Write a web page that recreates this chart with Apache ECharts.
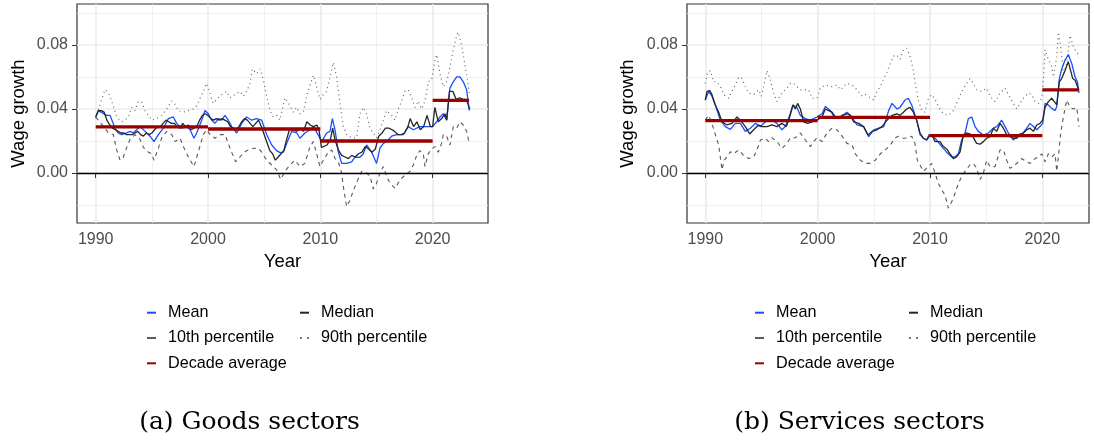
<!DOCTYPE html>
<html>
<head>
<meta charset="utf-8">
<script src="https://cdn.jsdelivr.net/npm/echarts@6/dist/echarts.min.js"></script>
<style>
html,body{margin:0;padding:0;background:#fff;}
#chart{width:1094px;height:443px;}
</style>
</head>
<body>
<div id="chart"></div>
<script>
// ---------- DATA ----------
const xMajorTicks = [1990, 2000, 2010, 2020];
const xMinorTicks = [1995, 2005, 2015];
const yMajorTicks = [0, 0.04, 0.08];
const yMinorTicks = [-0.02, 0.02, 0.06, 0.10];
const decadeStart = [1990, 2000, 2010, 2020];
const decadeEnd = [2000, 2010, 2020, 2023.25];
const goodsDecade = [0.0288, 0.0275, 0.0200, 0.0454];
const servicesDecade = [0.0327, 0.0348, 0.0233, 0.0520];

const goodsMean = [[1990.0,0.035],[1990.24,0.039],[1990.98,0.036],[1991.28,0.036],[1991.72,0.028],[1991.99,0.025],[1992.3,0.024],[1992.76,0.025],[1993.06,0.026],[1993.35,0.025],[1993.95,0.029],[1994.4,0.026],[1994.84,0.023],[1995.19,0.0196],[1995.58,0.024],[1996.02,0.028],[1996.47,0.034],[1996.91,0.035],[1997.21,0.031],[1997.66,0.028],[1998.1,0.029],[1998.4,0.027],[1998.75,0.0217],[1998.99,0.025],[1999.44,0.033],[1999.73,0.039],[2000.03,0.037],[2000.33,0.033],[2000.62,0.031],[2000.92,0.034],[2001.22,0.033],[2001.51,0.036],[2001.72,0.034],[2002.11,0.029],[2002.55,0.025],[2003.0,0.031],[2003.44,0.035],[2003.89,0.033],[2004.33,0.034],[2004.78,0.033],[2005.22,0.024],[2005.67,0.0175],[2006.11,0.014],[2006.41,0.0127],[2006.71,0.013],[2007.15,0.021],[2007.45,0.026],[2007.9,0.025],[2008.19,0.0217],[2008.63,0.025],[2009.08,0.027],[2009.38,0.029],[2009.82,0.0237],[2010.12,0.0196],[2010.56,0.025],[2010.86,0.026],[2011.07,0.034],[2011.31,0.027],[2011.6,0.0133],[2011.9,0.006],[2012.34,0.006],[2012.79,0.007],[2013.09,0.010],[2013.53,0.0098],[2013.83,0.012],[2014.12,0.0175],[2014.57,0.013],[2015.01,0.006],[2015.31,0.0155],[2015.61,0.0185],[2015.9,0.0196],[2016.35,0.023],[2016.8,0.024],[2017.39,0.024],[2017.83,0.029],[2018.28,0.027],[2018.87,0.029],[2019.47,0.029],[2020.0,0.029],[2020.36,0.032],[2020.65,0.035],[2020.95,0.037],[2021.25,0.033],[2021.54,0.053],[2021.84,0.057],[2022.14,0.060],[2022.43,0.060],[2022.73,0.057],[2023.03,0.052],[2023.26,0.039]];

const goodsMedian = [[1990.0,0.035],[1990.25,0.039],[1990.5,0.039],[1990.75,0.038],[1991.0,0.033],[1991.25,0.030],[1991.5,0.028],[1991.75,0.027],[1992.0,0.026],[1992.25,0.025],[1992.5,0.025],[1992.75,0.024],[1993.0,0.024],[1993.25,0.024],[1993.5,0.025],[1993.75,0.026],[1994.0,0.024],[1994.25,0.023],[1994.5,0.025],[1994.75,0.024],[1995.0,0.025],[1995.25,0.027],[1995.5,0.029],[1995.75,0.029],[1996.0,0.031],[1996.25,0.033],[1996.5,0.032],[1996.75,0.031],[1997.0,0.031],[1997.25,0.029],[1997.5,0.028],[1997.75,0.031],[1998.0,0.029],[1998.25,0.030],[1998.5,0.027],[1998.75,0.028],[1999.0,0.029],[1999.25,0.033],[1999.5,0.036],[1999.75,0.037],[2000.0,0.036],[2000.25,0.034],[2000.5,0.033],[2000.75,0.034],[2001.0,0.033],[2001.25,0.034],[2001.5,0.033],[2001.75,0.032],[2002.0,0.029],[2002.25,0.028],[2002.5,0.027],[2002.75,0.029],[2003.0,0.032],[2003.25,0.034],[2003.5,0.033],[2003.75,0.031],[2004.0,0.029],[2004.25,0.031],[2004.5,0.033],[2004.75,0.029],[2005.0,0.024],[2005.25,0.019],[2005.5,0.014],[2005.75,0.012],[2006.0,0.008],[2006.25,0.010],[2006.5,0.012],[2006.75,0.014],[2007.0,0.021],[2007.25,0.027],[2007.6,0.027],[2007.9,0.026],[2008.2,0.028],[2008.5,0.026],[2008.8,0.032],[2009.1,0.030],[2009.4,0.029],[2009.7,0.030],[2009.9,0.026],[2010.1,0.016],[2010.6,0.0175],[2010.9,0.021],[2011.1,0.028],[2011.3,0.021],[2011.6,0.0144],[2011.9,0.011],[2012.2,0.010],[2012.5,0.009],[2012.8,0.011],[2013.1,0.010],[2013.4,0.012],[2013.7,0.013],[2014.0,0.0165],[2014.3,0.015],[2014.6,0.013],[2014.9,0.015],[2015.2,0.023],[2015.5,0.025],[2015.8,0.028],[2016.1,0.028],[2016.4,0.027],[2016.6,0.026],[2016.9,0.024],[2017.2,0.024],[2017.5,0.025],[2017.8,0.029],[2018.0,0.034],[2018.3,0.029],[2018.6,0.032],[2018.9,0.027],[2019.2,0.029],[2019.5,0.036],[2019.8,0.029],[2020.0,0.029],[2020.2,0.041],[2020.5,0.032],[2020.8,0.034],[2021.1,0.037],[2021.25,0.033],[2021.5,0.051],[2021.8,0.051],[2022.1,0.046],[2022.4,0.047],[2022.7,0.046],[2023.0,0.046],[2023.3,0.040]];

const goodsP10 = [[1990.0,0.035],[1990.83,0.028],[1991.13,0.025],[1991.57,0.024],[1991.87,0.0144],[1992.17,0.008],[1992.46,0.010],[1992.76,0.016],[1993.06,0.021],[1993.5,0.024],[1993.95,0.021],[1994.24,0.016],[1994.69,0.013],[1994.99,0.012],[1995.19,0.008],[1995.58,0.0155],[1995.88,0.022],[1996.32,0.026],[1996.77,0.024],[1997.06,0.0196],[1997.51,0.0217],[1997.8,0.0165],[1998.25,0.010],[1998.75,0.004],[1999.14,0.0133],[1999.58,0.024],[1999.88,0.027],[2000.18,0.024],[2000.62,0.0217],[2001.07,0.024],[2001.51,0.024],[2001.96,0.0155],[2002.46,0.007],[2002.85,0.010],[2003.2,0.013],[2003.59,0.0144],[2004.04,0.0155],[2004.48,0.0155],[2004.78,0.013],[2005.22,0.008],[2005.67,0.005],[2006.11,0.002],[2006.47,-0.004],[2006.85,0.001],[2007.3,0.005],[2007.74,0.008],[2008.19,0.004],[2008.63,0.006],[2009.08,0.0165],[2009.38,0.0196],[2009.67,0.012],[2009.97,0.004],[2010.27,0.008],[2010.71,0.013],[2011.01,0.0144],[2011.31,0.009],[2011.6,0.007],[2011.9,0.0],[2012.05,-0.0085],[2012.34,-0.021],[2012.64,-0.017],[2012.94,-0.011],[2013.29,-0.005],[2013.68,0.001],[2014.12,0.0],[2014.42,-0.002],[2014.72,-0.010],[2015.01,-0.0065],[2015.31,0.0],[2015.61,0.004],[2015.9,-0.002],[2016.2,-0.0065],[2016.65,-0.0096],[2017.09,-0.0044],[2017.54,-0.0013],[2017.98,0.001],[2018.28,0.005],[2018.58,0.011],[2018.87,0.014],[2019.17,0.012],[2019.32,0.004],[2019.61,0.012],[2019.91,0.015],[2020.21,0.0165],[2020.5,0.013],[2020.8,0.0185],[2020.95,0.024],[2021.25,0.023],[2021.54,0.0175],[2021.84,0.029],[2022.14,0.028],[2022.43,0.032],[2022.73,0.030],[2023.03,0.026],[2023.26,0.0185]];

const goodsP90 = [[1990.0,0.034],[1990.53,0.046],[1990.83,0.052],[1991.13,0.050],[1991.42,0.045],[1991.87,0.035],[1992.31,0.032],[1992.61,0.033],[1992.91,0.035],[1993.2,0.041],[1993.5,0.039],[1993.8,0.045],[1994.1,0.044],[1994.39,0.039],[1994.69,0.036],[1994.99,0.033],[1995.43,0.034],[1995.88,0.036],[1996.32,0.040],[1996.77,0.045],[1997.06,0.043],[1997.36,0.039],[1997.8,0.038],[1998.25,0.039],[1998.69,0.040],[1998.99,0.042],[1999.44,0.049],[1999.88,0.056],[2000.18,0.050],[2000.47,0.0435],[2000.92,0.047],[2001.22,0.049],[2001.66,0.051],[2001.96,0.047],[2002.4,0.049],[2002.85,0.051],[2003.15,0.048],[2003.44,0.051],[2003.74,0.056],[2003.95,0.065],[2004.33,0.062],[2004.63,0.065],[2004.93,0.058],[2005.22,0.048],[2005.52,0.039],[2005.82,0.035],[2006.11,0.036],[2006.41,0.033],[2006.85,0.047],[2007.0,0.048],[2007.3,0.042],[2007.6,0.038],[2007.89,0.041],[2008.19,0.037],[2008.49,0.038],[2008.78,0.048],[2009.08,0.055],[2009.38,0.061],[2009.67,0.054],[2009.97,0.046],[2010.27,0.049],[2010.56,0.051],[2010.86,0.060],[2011.16,0.069],[2011.45,0.060],[2011.75,0.0435],[2012.05,0.029],[2012.34,0.024],[2012.79,0.022],[2013.23,0.022],[2013.53,0.037],[2013.83,0.041],[2014.12,0.037],[2014.42,0.028],[2014.72,0.025],[2015.01,0.022],[2015.31,0.027],[2015.61,0.033],[2015.9,0.039],[2016.35,0.036],[2016.65,0.033],[2016.94,0.040],[2017.24,0.045],[2017.54,0.051],[2017.83,0.052],[2018.13,0.047],[2018.43,0.041],[2018.72,0.045],[2019.02,0.040],[2019.32,0.045],[2019.61,0.057],[2019.91,0.058],[2020.21,0.071],[2020.36,0.074],[2020.65,0.062],[2020.95,0.054],[2021.25,0.057],[2021.54,0.066],[2021.84,0.077],[2022.14,0.086],[2022.28,0.088],[2022.58,0.080],[2022.88,0.0675],[2023.17,0.055],[2023.26,0.050]];

const servicesMean = [[1990.0,0.0456],[1990.3,0.051],[1990.59,0.048],[1990.89,0.0425],[1991.34,0.033],[1991.78,0.029],[1992.23,0.0273],[1992.67,0.031],[1993.12,0.031],[1993.56,0.026],[1994.01,0.028],[1994.45,0.031],[1994.9,0.029],[1995.49,0.033],[1995.93,0.033],[1996.38,0.031],[1996.82,0.027],[1997.12,0.029],[1997.51,0.036],[1997.8,0.0425],[1998.16,0.041],[1998.46,0.036],[1998.9,0.034],[1999.35,0.033],[1999.94,0.035],[2000.39,0.037],[2000.68,0.0415],[2001.13,0.039],[2001.57,0.034],[2002.02,0.035],[2002.61,0.038],[2003.06,0.035],[2003.5,0.030],[2004.09,0.029],[2004.54,0.0227],[2004.99,0.027],[2005.43,0.028],[2005.88,0.029],[2006.32,0.039],[2006.62,0.0435],[2007.06,0.040],[2007.33,0.041],[2007.77,0.0456],[2008.07,0.0467],[2008.37,0.0425],[2008.81,0.033],[2009.11,0.024],[2009.41,0.0217],[2009.7,0.0206],[2009.94,0.0227],[2010.15,0.024],[2010.59,0.0206],[2011.04,0.0165],[2011.48,0.013],[2011.93,0.010],[2012.23,0.010],[2012.52,0.012],[2012.82,0.0206],[2013.12,0.025],[2013.41,0.034],[2013.71,0.035],[2014.01,0.029],[2014.3,0.026],[2014.75,0.0237],[2015.19,0.025],[2015.64,0.028],[2015.93,0.029],[2016.38,0.033],[2016.68,0.029],[2016.97,0.025],[2017.42,0.0206],[2017.86,0.024],[2018.31,0.025],[2018.61,0.028],[2018.9,0.031],[2019.2,0.029],[2019.5,0.027],[2019.79,0.029],[2020.03,0.031],[2020.24,0.0435],[2020.53,0.0425],[2020.83,0.0404],[2021.13,0.039],[2021.28,0.0415],[2021.51,0.059],[2021.72,0.065],[2022.02,0.0706],[2022.31,0.074],[2022.61,0.0685],[2022.91,0.060],[2023.12,0.057],[2023.26,0.050]];

const servicesMedian = [[1990.0,0.0456],[1990.15,0.051],[1990.39,0.0515],[1990.59,0.049],[1990.89,0.0425],[1991.19,0.038],[1991.48,0.032],[1991.93,0.030],[1992.37,0.031],[1992.82,0.035],[1993.12,0.033],[1993.56,0.029],[1993.95,0.0244],[1994.3,0.027],[1994.75,0.030],[1995.04,0.029],[1995.49,0.029],[1995.93,0.030],[1996.38,0.029],[1996.82,0.031],[1997.21,0.029],[1997.51,0.035],[1997.8,0.0425],[1998.01,0.040],[1998.22,0.0435],[1998.46,0.040],[1998.75,0.032],[1999.11,0.031],[1999.5,0.032],[1999.94,0.033],[2000.39,0.035],[2000.68,0.040],[2000.98,0.039],[2001.28,0.038],[2001.57,0.035],[2001.87,0.034],[2002.17,0.036],[2002.61,0.037],[2002.91,0.036],[2003.2,0.032],[2003.65,0.031],[2004.09,0.029],[2004.48,0.0237],[2004.84,0.026],[2005.28,0.027],[2005.73,0.029],[2006.17,0.033],[2006.62,0.036],[2007.06,0.037],[2007.33,0.036],[2007.63,0.038],[2007.92,0.040],[2008.22,0.041],[2008.52,0.038],[2008.81,0.033],[2009.11,0.025],[2009.41,0.0217],[2009.7,0.0206],[2009.94,0.024],[2010.15,0.024],[2010.45,0.0196],[2010.89,0.0196],[2011.19,0.0165],[2011.48,0.015],[2011.78,0.012],[2012.08,0.009],[2012.37,0.010],[2012.67,0.013],[2012.97,0.024],[2013.26,0.025],[2013.71,0.024],[2014.15,0.0185],[2014.45,0.018],[2014.75,0.0196],[2015.04,0.0217],[2015.34,0.0227],[2015.64,0.028],[2015.93,0.026],[2016.23,0.031],[2016.53,0.028],[2016.82,0.024],[2017.12,0.0227],[2017.42,0.0217],[2017.72,0.0217],[2018.01,0.024],[2018.31,0.025],[2018.61,0.027],[2018.9,0.028],[2019.2,0.026],[2019.5,0.030],[2019.79,0.031],[2020.03,0.033],[2020.24,0.041],[2020.53,0.0446],[2020.83,0.0467],[2021.13,0.044],[2021.28,0.0425],[2021.51,0.057],[2021.72,0.059],[2022.02,0.064],[2022.31,0.0696],[2022.46,0.0706],[2022.7,0.059],[2022.91,0.058],[2023.12,0.054],[2023.26,0.052]];

const servicesP10 = [[1990.0,0.033],[1990.3,0.036],[1990.59,0.031],[1990.89,0.024],[1991.19,0.0175],[1991.48,0.002],[1991.69,0.008],[1991.93,0.010],[1992.23,0.0133],[1992.52,0.012],[1992.97,0.0144],[1993.41,0.011],[1993.86,0.009],[1994.3,0.010],[1994.6,0.0144],[1994.9,0.0206],[1995.34,0.0217],[1995.64,0.0196],[1995.93,0.022],[1996.38,0.0196],[1996.82,0.0154],[1997.27,0.0185],[1997.57,0.022],[1998.01,0.022],[1998.46,0.025],[1998.9,0.0206],[1999.35,0.0165],[1999.64,0.0196],[1999.94,0.022],[2000.39,0.0196],[2000.83,0.025],[2001.28,0.028],[2001.72,0.027],[2002.17,0.023],[2002.61,0.0185],[2003.06,0.0175],[2003.35,0.012],[2003.8,0.008],[2004.24,0.006],[2004.69,0.006],[2005.13,0.008],[2005.58,0.012],[2006.02,0.0144],[2006.47,0.0175],[2006.91,0.022],[2007.2,0.023],[2007.63,0.0217],[2008.07,0.022],[2008.37,0.023],[2008.66,0.0185],[2008.87,0.008],[2009.11,0.005],[2009.41,0.001],[2009.7,0.003],[2010.15,0.006],[2010.45,0.0],[2010.74,-0.0065],[2011.04,-0.0106],[2011.34,-0.0138],[2011.63,-0.022],[2011.93,-0.018],[2012.23,-0.0127],[2012.52,-0.0065],[2012.82,-0.0023],[2013.12,0.001],[2013.56,0.005],[2013.86,0.006],[2014.15,0.003],[2014.45,-0.004],[2014.75,0.0],[2015.04,0.008],[2015.34,0.004],[2015.79,0.004],[2016.23,0.0144],[2016.53,0.0144],[2016.82,0.008],[2017.12,0.003],[2017.42,0.004],[2017.86,0.007],[2018.16,0.009],[2018.61,0.007],[2018.9,0.006],[2019.35,0.009],[2019.64,0.010],[2019.94,0.012],[2020.24,0.007],[2020.53,0.012],[2020.83,0.010],[2021.13,0.012],[2021.28,0.001],[2021.42,0.010],[2021.63,0.025],[2021.87,0.035],[2022.17,0.0456],[2022.46,0.041],[2022.76,0.040],[2023.06,0.041],[2023.26,0.029]];

const servicesP90 = [[1990.0,0.056],[1990.21,0.063],[1990.45,0.064],[1990.74,0.057],[1991.04,0.057],[1991.34,0.054],[1991.63,0.049],[1992.08,0.0467],[1992.37,0.051],[1992.67,0.055],[1992.97,0.060],[1993.26,0.059],[1993.56,0.054],[1993.86,0.050],[1994.3,0.049],[1994.75,0.052],[1994.99,0.048],[1995.19,0.054],[1995.49,0.064],[1995.79,0.058],[1996.08,0.050],[1996.38,0.0446],[1996.68,0.049],[1996.97,0.051],[1997.27,0.053],[1997.57,0.056],[1997.86,0.056],[1998.16,0.054],[1998.46,0.052],[1998.9,0.052],[1999.2,0.052],[1999.5,0.0467],[1999.94,0.0467],[2000.24,0.053],[2000.68,0.055],[2001.13,0.054],[2001.42,0.054],[2001.72,0.055],[2002.02,0.052],[2002.31,0.054],[2002.61,0.056],[2003.06,0.055],[2003.5,0.052],[2003.95,0.048],[2004.24,0.049],[2004.69,0.047],[2004.99,0.0456],[2005.28,0.051],[2005.58,0.054],[2005.88,0.059],[2006.17,0.063],[2006.47,0.0685],[2006.74,0.073],[2007.03,0.0738],[2007.33,0.071],[2007.63,0.077],[2007.92,0.078],[2008.22,0.073],[2008.52,0.064],[2008.66,0.057],[2008.96,0.0456],[2009.26,0.039],[2009.55,0.038],[2009.85,0.0467],[2010.15,0.049],[2010.45,0.046],[2010.74,0.0415],[2011.19,0.037],[2011.63,0.036],[2012.08,0.039],[2012.52,0.046],[2012.82,0.051],[2013.26,0.056],[2013.56,0.059],[2013.86,0.056],[2014.15,0.052],[2014.6,0.051],[2015.04,0.053],[2015.34,0.048],[2015.79,0.0446],[2016.23,0.050],[2016.68,0.053],[2016.97,0.049],[2017.42,0.0435],[2017.72,0.040],[2018.01,0.0435],[2018.31,0.0467],[2018.75,0.050],[2019.05,0.049],[2019.35,0.0446],[2019.64,0.0435],[2019.94,0.0467],[2020.09,0.058],[2020.24,0.077],[2020.53,0.071],[2020.83,0.0665],[2020.98,0.060],[2021.28,0.0727],[2021.42,0.088],[2021.63,0.079],[2021.87,0.062],[2022.17,0.0685],[2022.46,0.086],[2022.76,0.079],[2023.06,0.075],[2023.26,0.074]];

// ---------- STYLE ----------
const SANS = '"Liberation Sans", Arial, Helvetica, sans-serif';
const COL_MEAN = '#1450ff';
const COL_MEDIAN = '#262626';
const COL_P10 = '#595959';
const COL_P90 = '#666666';
const COL_DEC = '#990000';
const GRID_COL = '#ebebeb';

function decadeData(vals) {
  const out = [];
  for (let i = 0; i < vals.length; i++) {
    out.push([decadeStart[i], vals[i]]);
    out.push([decadeEnd[i], vals[i]]);
    out.push([decadeEnd[i], null]);
  }
  return out;
}

const panels = [
  {left: 77, width: 411, xmin: 1988.335, xmax: 2024.93, nameGap: 49,
   mean: goodsMean, median: goodsMedian, p10: goodsP10, p90: goodsP90, dec: goodsDecade},
  {left: 687, width: 402, xmin: 1988.37, xmax: 2024.15, nameGap: 50,
   mean: servicesMean, median: servicesMedian, p10: servicesP10, p90: servicesP90, dec: servicesDecade}
];

const YMIN = -0.03125, YMAX = 0.1056;
const grid = [], xAxis = [], yAxis = [], series = [];

panels.forEach((p, i) => {
  grid.push({left: p.left, top: 4, width: p.width, height: 219, show: true,
    borderColor: '#333333', borderWidth: 1.2, backgroundColor: 'transparent', containLabel: false});
  xAxis.push({type: 'value', gridIndex: i, min: p.xmin, max: p.xmax, position: 'bottom',
    name: 'Year', nameLocation: 'middle', nameGap: 29,
    nameTextStyle: {fontFamily: SANS, fontSize: 18.5, color: '#000'},
    axisLine: {show: false},
    axisTick: {show: true, length: 5, lineStyle: {color: '#333', width: 1}, customValues: xMajorTicks},
    axisLabel: {show: true, margin: 9, fontFamily: SANS, fontSize: 16, color: '#4d4d4d', customValues: xMajorTicks,
      formatter: v => String(Math.round(v))},
    splitLine: {show: true, lineStyle: {color: GRID_COL, width: 1.6}}});
  xAxis.push({type: 'value', gridIndex: i, min: p.xmin, max: p.xmax, position: 'bottom',
    axisLine: {show: false}, axisLabel: {show: false},
    axisTick: {show: false, customValues: xMinorTicks},
    splitLine: {show: true, lineStyle: {color: GRID_COL, width: 0.8}}});
  yAxis.push({type: 'value', gridIndex: i, min: YMIN, max: YMAX, position: 'left',
    name: 'Wage growth', nameLocation: 'middle', nameGap: p.nameGap, nameRotate: 90,
    nameTextStyle: {fontFamily: SANS, fontSize: 18.5, color: '#000'},
    axisLine: {show: false},
    axisTick: {show: true, length: 5, lineStyle: {color: '#333', width: 1}, customValues: yMajorTicks},
    axisLabel: {show: true, margin: 9, fontFamily: SANS, fontSize: 16, color: '#4d4d4d', customValues: yMajorTicks,
      formatter: v => v.toFixed(2)},
    splitLine: {show: true, lineStyle: {color: GRID_COL, width: 1.6}}});
  yAxis.push({type: 'value', gridIndex: i, min: YMIN, max: YMAX, position: 'left', offset: 0,
    axisLine: {show: false}, axisLabel: {show: false},
    axisTick: {show: false, customValues: yMinorTicks},
    splitLine: {show: true, lineStyle: {color: GRID_COL, width: 0.8}}});

  const xi = 2 * i, yi = 2 * i;
  const base = {type: 'line', xAxisIndex: xi, yAxisIndex: yi, showSymbol: false, symbol: 'none',
    animation: false, silent: true};
  series.push(Object.assign({}, base, {name: '10th percentile', data: p.p10, color: COL_P10, z: 3,
    lineStyle: {color: COL_P10, width: 1.1, type: [4, 4]}}));
  series.push(Object.assign({}, base, {name: '90th percentile', data: p.p90, color: COL_P90, z: 3,
    lineStyle: {color: COL_P90, width: 1.2, type: [1, 3.5]}}));
  series.push(Object.assign({}, base, {name: 'Mean', data: p.mean, color: COL_MEAN, z: 4,
    lineStyle: {color: COL_MEAN, width: 1.3},
    markLine: {silent: true, symbol: 'none', label: {show: false}, animation: false,
      lineStyle: {color: '#000', width: 1.3, type: 'solid'}, data: [{yAxis: 0}]}}));
  series.push(Object.assign({}, base, {name: 'Median', data: p.median, color: COL_MEDIAN, z: 5,
    lineStyle: {color: COL_MEDIAN, width: 1.3}}));
  series.push(Object.assign({}, base, {name: 'Decade average', data: decadeData(p.dec), color: COL_DEC, z: 6,
    connectNulls: false, lineStyle: {color: COL_DEC, width: 3.3, cap: 'butt'}}));
});

const legendText = {fontFamily: SANS, fontSize: 16.2, color: '#000', lineHeight: 18, padding: [0, 0, 0, 7]};
const dotsIcon = 'path://M0,0h1v1h-1zM4,0h1v1h-1z';
function legendCol(left, items) {
  return {orient: 'vertical', left: left, top: 303.7, padding: 0, itemGap: 7.3,
    itemWidth: 9, itemHeight: 2, selectedMode: false, textStyle: legendText,
    data: items};
}
const col1 = [{name: 'Mean', icon: 'rect'}, {name: '10th percentile', icon: 'rect'}, {name: 'Decade average', icon: 'rect'}];
const col2 = [{name: 'Median', icon: 'rect'}, {name: '90th percentile', icon: dotsIcon}];
const legend = [legendCol(147, col1), legendCol(300, col2), legendCol(755, col1), legendCol(909, col2)];

const SERIF = '"DejaVu Serif", "Liberation Serif", serif';
const graphic = [
  {type: 'text', style: {text: '(a) Goods sectors', font: '25px ' + SERIF, fill: '#000',
    x: 249.5, y: 422, align: 'center', verticalAlign: 'middle'}},
  {type: 'text', style: {text: '(b) Services sectors', font: '25px ' + SERIF, fill: '#000',
    x: 859.5, y: 422, align: 'center', verticalAlign: 'middle'}}
];

const chart = echarts.init(document.getElementById('chart'), null, {renderer: 'canvas'});
chart.setOption({animation: false, backgroundColor: '#fff', grid, xAxis, yAxis, series, legend, graphic});
</script>
</body>
</html>
